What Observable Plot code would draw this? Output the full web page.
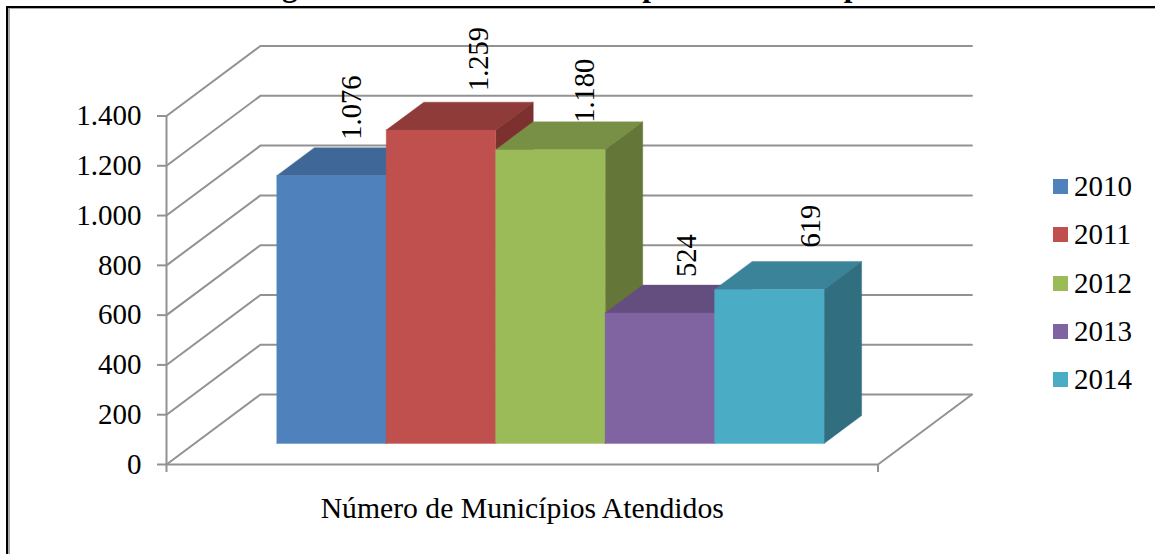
<!DOCTYPE html>
<html lang="pt">
<head>
<meta charset="utf-8">
<title>Número de Municípios Atendidos</title>
<script src="https://cdn.jsdelivr.net/npm/d3@7"></script>
<script src="https://cdn.jsdelivr.net/npm/@observablehq/plot@0.6"></script>
<style>
  html, body { margin: 0; padding: 0; background: #fff; overflow: hidden; }
  #page { position: relative; width: 1155px; height: 554px; overflow: hidden; font-family: "Liberation Serif", serif; }
  #frame { position: absolute; left: 6px; top: 6px; right: 0; bottom: 0; border-left: 2px solid #000; border-top: 2px solid #000; }
  #frame::after { content: ""; position: absolute; inset: 0; border-left: 2px solid #a9a9a9; border-top: 1.5px solid #a9a9a9; }
  #chart { position: absolute; left: 0; top: 0; }
  #chart svg { background: transparent; overflow: hidden; }
  #legend { position: absolute; left: 1053px; top: 162.4px; color: #000; font-size: 29px; }
  #legend div { display: flex; align-items: center; height: 48.25px; }
  #legend i { display: block; width: 15px; height: 15px; margin-right: 6px; }
</style>
</head>
<body>
<div id="page">
  <div id="frame"></div>
  <div id="chart"></div>
  <div id="legend"></div>
</div>
<script>
// Chart values
const heading = "Figura 1 - Número de Municípios Atendidos por Ano";
const category = "Número de Municípios Atendidos";
const years = ["2010", "2011", "2012", "2013", "2014"];
const served = [1076, 1259, 1180, 524, 619];
const valueTicks = [0, 200, 400, 600, 800, 1000, 1200, 1400];

// Face colours per year
const frontColors = ["#4f81bd", "#c0504d", "#9bbb59", "#8064a2", "#4bacc6"];
const topColors = ["#3f6797", "#8e3b39", "#789045", "#644e80", "#3a8399"];
const sideColors = ["#345378", "#7d312f", "#647739", "#533f6a", "#316e80"];

// Value label offsets, in pixels, per bar
const labelNudges = [[2, -22], [19, -25], [16, -13], [8, -22], [23, -28]];

// Oblique projection: the room is 6.5 bar widths across, and one unit of depth
// shifts a point right by depthX bar widths and up by depthY value units.
const roomWidth = 6.5;
const depthX = 0.858;
const depthY = 281;
const barGap = 0.75;
const barFront = 0.3;
const barBack = 0.7;
const project = (x, value, depth) => ({x: x + depth * depthX, y: value + depth * depthY});

const format = d3.formatLocale({decimal: ",", thousands: ".", grouping: [3], currency: ["", ""]}).format(",d");

const grey = "#929292";
const gridWidth = 2;
const serif = "Liberation Serif";

// Back wall and left wall lines at each tick, with the floor's front and right edges
const wallLines = valueTicks.map((v) => [project(0, v, 0), project(0, v, 1), project(roomWidth, v, 1)]);
const floorLine = [project(0, 0, 0), project(roomWidth, 0, 0), project(roomWidth, 0, 1)];

const path = (points, options) => Plot.line(points, {x: "x", y: "y", ...options});
const polygon = (points, color) =>
  path([...points, points[0]], {fill: color, stroke: color, strokeWidth: 0.4, strokeLinejoin: "round"});

// Each bar is painted left to right, so later bars overlap earlier ones
const barMarks = years.flatMap((year, i) => {
  const x0 = barGap + i;
  const x1 = x0 + 1;
  const v = served[i];
  return [
    polygon([project(x0, v, barFront), project(x1, v, barFront), project(x1, v, barBack), project(x0, v, barBack)], topColors[i]),
    polygon([project(x1, 0, barFront), project(x1, 0, barBack), project(x1, v, barBack), project(x1, v, barFront)], sideColors[i]),
    polygon([project(x0, 0, barFront), project(x1, 0, barFront), project(x1, v, barFront), project(x0, v, barFront)], frontColors[i])
  ];
});

const labelMarks = years.map((year, i) => {
  const anchor = project(barGap + i + 0.5, served[i], 0.5);
  return Plot.text([anchor], {
    x: "x", y: "y", text: () => format(served[i]),
    rotate: -90, textAnchor: "start", lineAnchor: "middle",
    dx: labelNudges[i][0], dy: labelNudges[i][1],
    fontSize: 28.5, fontFamily: serif, fill: "#000"
  });
});

const marginTop = 115.5;

const chart = Plot.plot({
  width: 1155,
  height: 554,
  marginLeft: 166,
  marginRight: 277.5,
  marginTop,
  marginBottom: 90,
  x: {domain: [0, roomWidth]},
  y: {domain: [0, 1400]},
  marks: [
    ...wallLines.map((line) => path(line, {stroke: grey, strokeWidth: gridWidth})),
    path(floorLine, {stroke: grey, strokeWidth: gridWidth}),
    ...labelMarks,
    ...barMarks,
    Plot.ruleX([0], {y1: 0, y2: 1400, stroke: grey, strokeWidth: gridWidth}),
    Plot.axisY(valueTicks, {
      tickFormat: format, tickSize: 9, tickPadding: 16, label: null,
      stroke: grey, strokeWidth: gridWidth, fill: "#000",
      fontSize: 29, fontFamily: serif
    }),
    Plot.axisX([0, roomWidth], {
      tickFormat: () => "", tickSize: 8, label: null,
      stroke: grey, strokeWidth: gridWidth
    }),
    Plot.text([category], {
      x: roomWidth / 2, y: 0, text: (d) => d,
      dy: 53, lineAnchor: "bottom", textAnchor: "middle",
      fontSize: 29.7, fontFamily: serif, fill: "#000"
    }),
    // Heading runs off the top edge of the page; only its descenders show
    Plot.text([heading], {
      text: (d) => d, frameAnchor: "top-left",
      dx: 254 - 166, dy: -marginTop - 5,
      lineAnchor: "bottom", textAnchor: "start",
      fontSize: 31, fontWeight: "bold", fontFamily: serif, fill: "#000"
    })
  ]
});
document.getElementById("chart").append(chart);

// Legend column beside the chart
const legend = document.getElementById("legend");
years.forEach((year, i) => {
  const row = document.createElement("div");
  const swatch = document.createElement("i");
  swatch.style.background = frontColors[i];
  row.append(swatch, document.createTextNode(year));
  legend.append(row);
});
</script>
</body>
</html>
